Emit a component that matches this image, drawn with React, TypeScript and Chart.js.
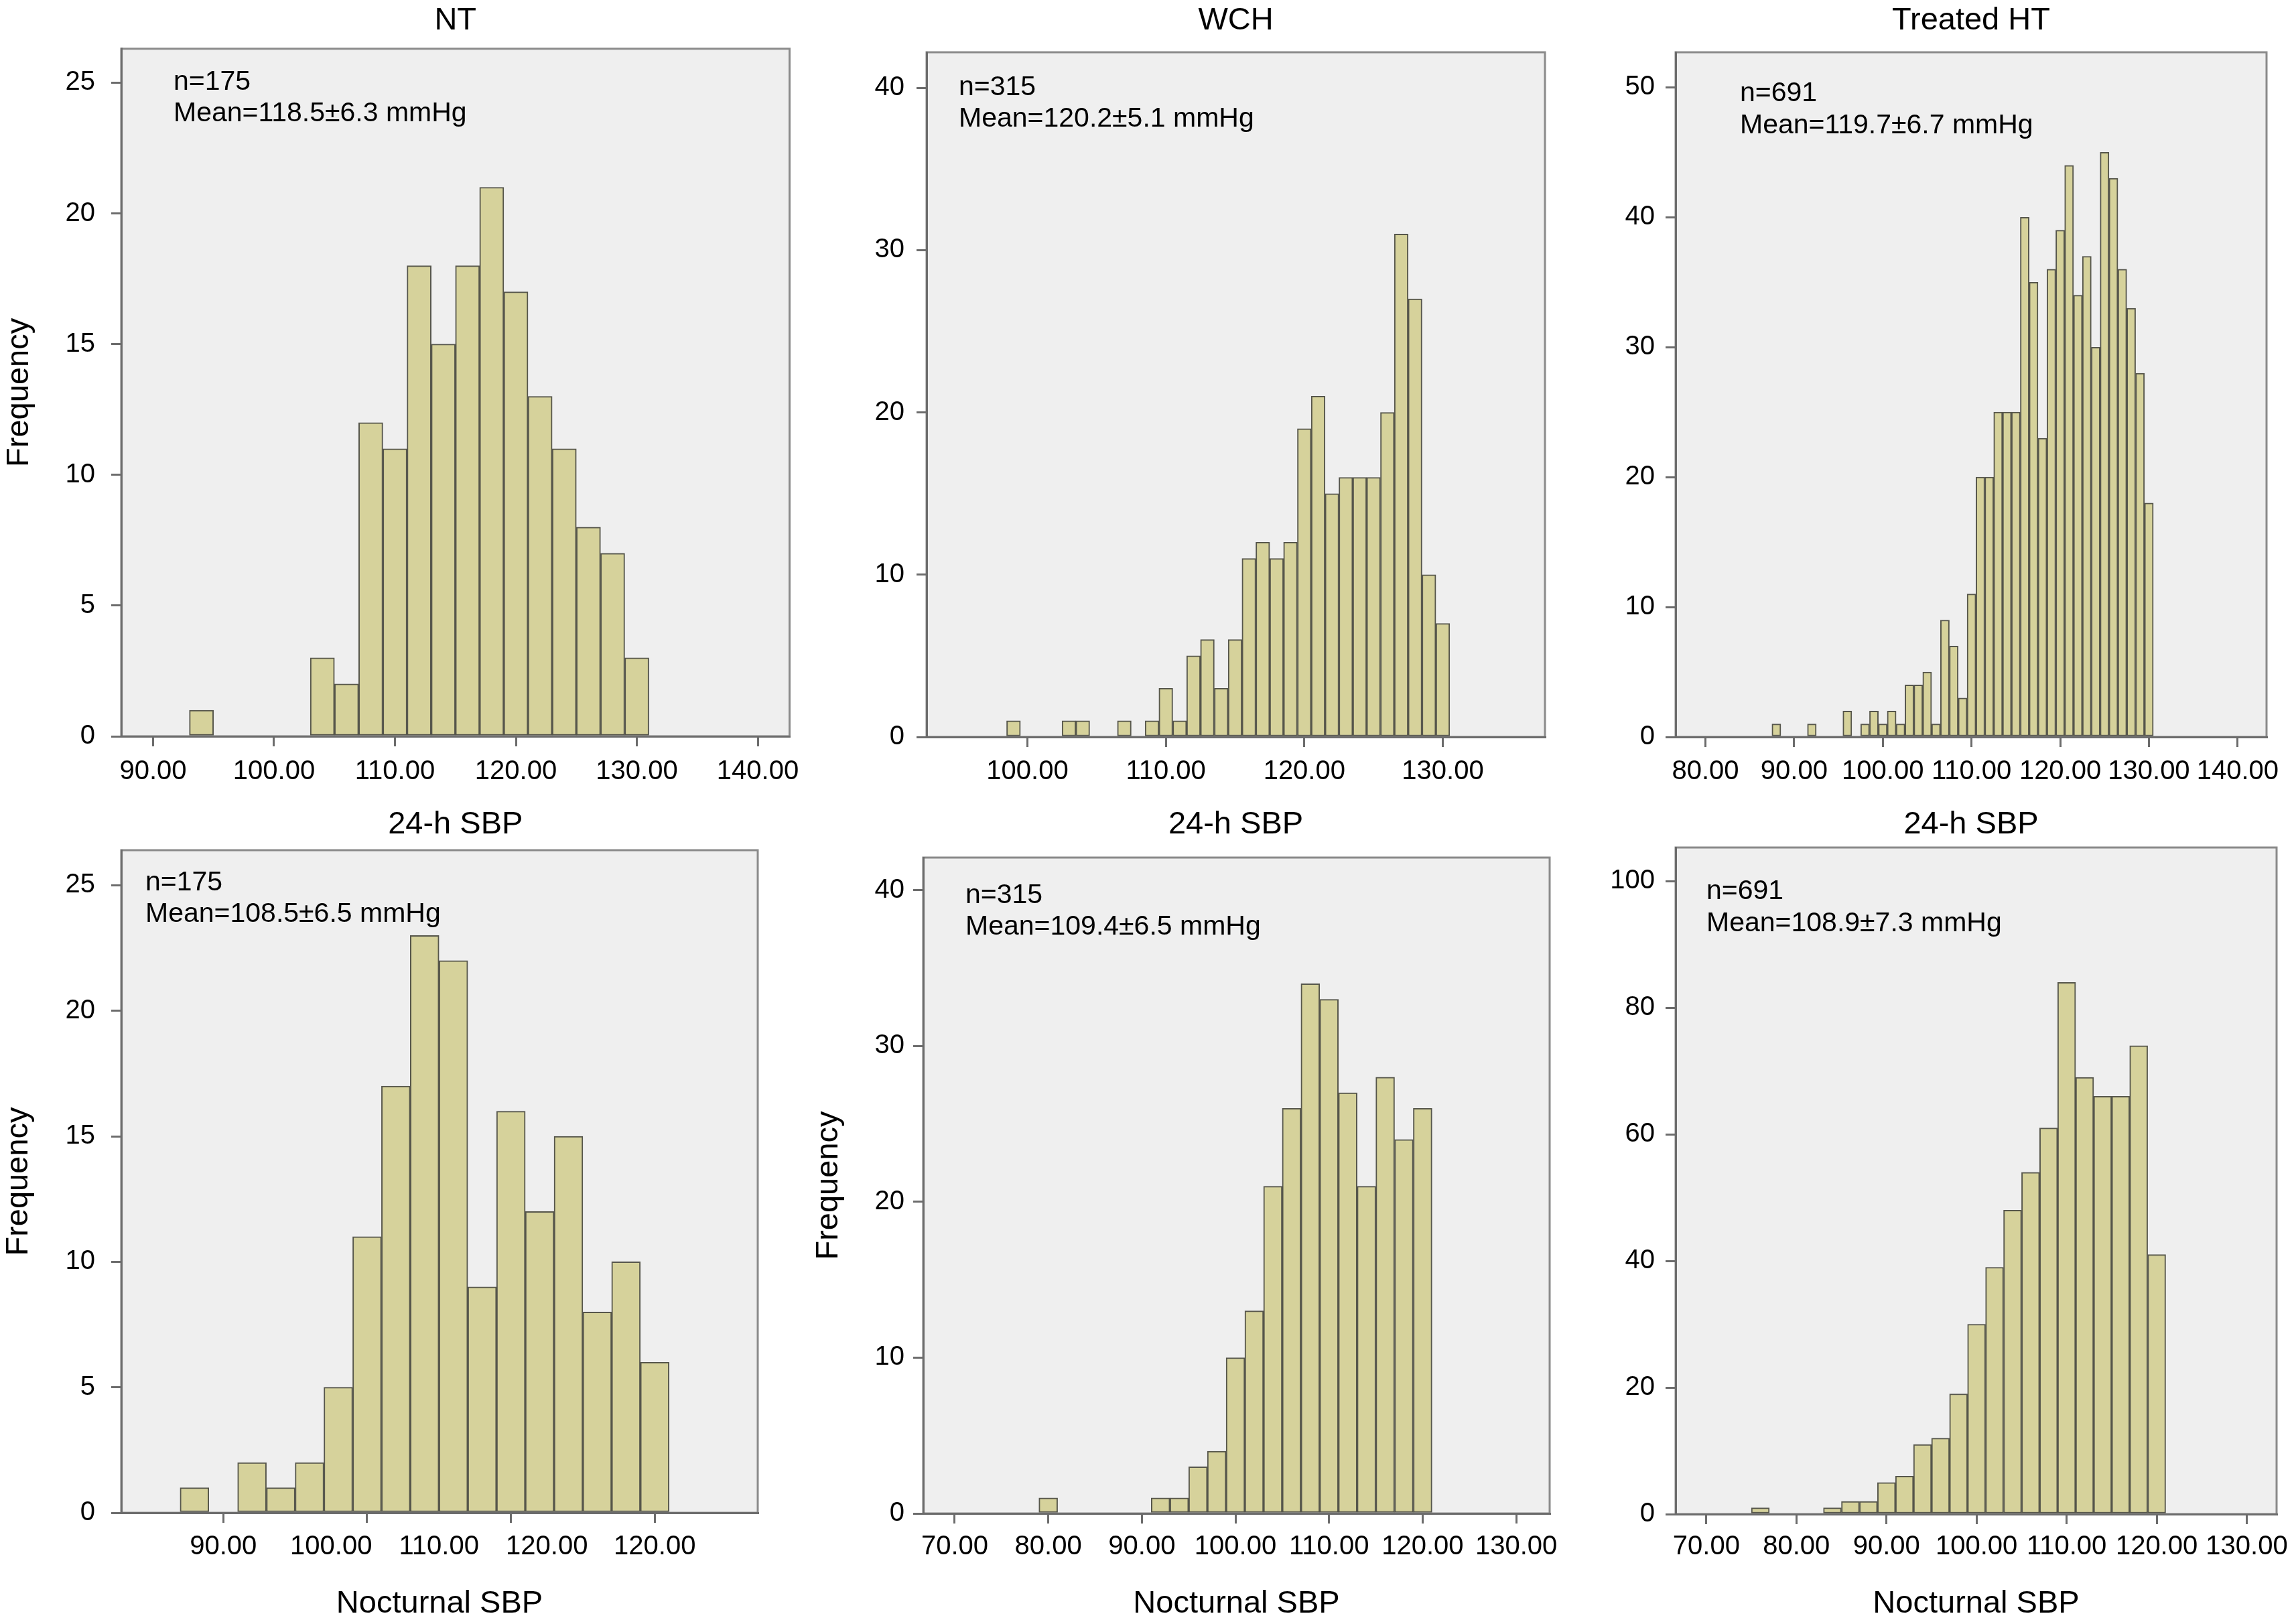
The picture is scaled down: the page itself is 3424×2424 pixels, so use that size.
import React, { useEffect, useRef } from "react";
import { Chart, registerables } from "chart.js";

Chart.register(...registerables);

const FONT = "'Liberation Sans', Arial, Helvetica, sans-serif";

// ---------------- data ----------------
// 24-h SBP, NT (bin width 2, bin centres)
const ntDayCenters = [94, 104, 106, 108, 110, 112, 114, 116, 118, 120, 122, 124, 126, 128, 130];
const ntDayCounts = [1, 3, 2, 12, 11, 18, 15, 18, 21, 17, 13, 11, 8, 7, 3];

// 24-h SBP, WCH (bin width 1)
const wchDayCenters = [99, 103, 104, 107, 109, 110, 111, 112, 113, 114, 115, 116, 117, 118, 119, 120, 121, 122, 123, 124, 125, 126, 127, 128, 129, 130];
const wchDayCounts = [1, 1, 1, 1, 1, 3, 1, 5, 6, 3, 6, 11, 12, 11, 12, 19, 21, 15, 16, 16, 16, 20, 31, 27, 10, 7];

// 24-h SBP, Treated HT (bin width 1)
const htDayCenters = [88, 92, 96, 98, 99, 100, 101, 102, 103, 104, 105, 106, 107, 108, 109, 110, 111, 112, 113, 114, 115, 116, 117, 118, 119, 120, 121, 122, 123, 124, 125, 126, 127, 128, 129, 130];
const htDayCounts = [1, 1, 2, 1, 2, 1, 2, 1, 4, 4, 5, 1, 9, 7, 3, 11, 20, 20, 25, 25, 25, 40, 35, 23, 36, 39, 44, 34, 37, 30, 45, 43, 36, 33, 28, 18];

// Nocturnal SBP, NT (bin width 2)
const ntNightCenters = [88, 92, 94, 96, 98, 100, 102, 104, 106, 108, 110, 112, 114, 116, 118, 120];
const ntNightCounts = [1, 2, 1, 2, 5, 11, 17, 23, 22, 9, 16, 12, 15, 8, 10, 6];

// Nocturnal SBP, WCH (bin width 2)
const wchNightCenters = [80, 92, 94, 96, 98, 100, 102, 104, 106, 108, 110, 112, 114, 116, 118, 120];
const wchNightCounts = [1, 1, 1, 3, 4, 10, 13, 21, 26, 34, 33, 27, 21, 28, 24, 26];

// Nocturnal SBP, Treated HT (bin width 2)
const htNightCenters = [76, 84, 86, 88, 90, 92, 94, 96, 98, 100, 102, 104, 106, 108, 110, 112, 114, 116, 118, 120];
const htNightCounts = [1, 1, 2, 2, 5, 6, 11, 12, 19, 30, 39, 48, 54, 61, 84, 69, 66, 66, 74, 41];

// tick values / labels
const ntDayTicks = [90, 100, 110, 120, 130, 140];
const wchDayTicks = [100, 110, 120, 130];
const htDayTicks = [80, 90, 100, 110, 120, 130, 140];
const ntNightTickMarks = [90, 100, 110, 120];
const ntNightLabelPositions = [90, 97.5, 105, 112.5, 120];
const ntNightTickLabels = ["90.00", "100.00", "110.00", "120.00", "120.00"];
const wchNightTicks = [70, 80, 90, 100, 110, 120, 130];
const htNightTicks = [70, 80, 90, 100, 110, 120, 130];
const freq25Ticks = [0, 5, 10, 15, 20, 25];
const freq40Ticks = [0, 10, 20, 30, 40];
const freq50Ticks = [0, 10, 20, 30, 40, 50];
const freq100Ticks = [0, 20, 40, 60, 80, 100];

// text
const groupTitles = ["NT", "WCH", "Treated HT"];
const dayAxisTitle = "24-h SBP";
const nightAxisTitle = "Nocturnal SBP";
const yAxisTitle = "Frequency";
const ntDayNote = ["n=175", "Mean=118.5\u00b16.3 mmHg"];
const wchDayNote = ["n=315", "Mean=120.2\u00b15.1 mmHg"];
const htDayNote = ["n=691", "Mean=119.7\u00b16.7 mmHg"];
const ntNightNote = ["n=175", "Mean=108.5\u00b16.5 mmHg"];
const wchNightNote = ["n=315", "Mean=109.4\u00b16.5 mmHg"];
const htNightNote = ["n=691", "Mean=108.9\u00b17.3 mmHg"];

// ---------------- styles ----------------
const PLOT_BG = "#efefef";
const FRAME = "#8a8a8a";
const AXIS = "#6c6c6c";
const BAR_FILL = "#d6d29b";
const BAR_EDGE = "#56564b";
const TICK_SIZE = 40;
const TITLE_SIZE = 47;
const NOTE_SIZE = 41;

interface PanelSpec {
  cell: [number, number, number, number];
  centers: number[];
  counts: number[];
  xMin: number;
  xMax: number;
  xTicks: number[];
  xLabelTicks?: number[];
  xLabels?: string[];
  yMax: number;
  yTicks: number[];
  title?: string;
  titlePad?: [number, number];
  xTitle: string;
  xTitlePadB: number;
  xHeight: number;
  xPad: number;
  yTitle?: string;
  yTitlePadT?: number;
  yWidth: number;
  yPad: number;
  padTop: number;
  padRight: number;
  note: string[];
  noteDx: number;
  noteDy: number[];
}

const COL3 = 2390;

const panels: PanelSpec[] = [
  {
    cell: [0, 0, 1195, 1262], centers: ntDayCenters, counts: ntDayCounts,
    xMin: 87.37, xMax: 142.63, xTicks: ntDayTicks, yMax: 26.3, yTicks: freq25Ticks,
    title: groupTitles[0], titlePad: [2.8, 13.5], xTitle: dayAxisTitle, xTitlePadB: 2.8,
    xHeight: 163, xPad: 14, yTitle: yAxisTitle, yTitlePadT: 0.8, yWidth: 181, yPad: 24,
    padTop: 0, padRight: 16.5, note: ntDayNote, noteDx: 78, noteDy: [61, 108],
  },
  {
    cell: [1195, 0, COL3, 1262], centers: wchDayCenters, counts: wchDayCounts,
    xMin: 92.72, xMax: 137.38, xTicks: wchDayTicks, yMax: 42.2, yTicks: freq40Ticks,
    title: groupTitles[1], titlePad: [2.8, 18.8], xTitle: dayAxisTitle, xTitlePadB: 2.8,
    xHeight: 162, xPad: 13, yWidth: 188, yPad: 18,
    padTop: 0, padRight: COL3 - 2306, note: wchDayNote, noteDx: 48, noteDy: [64, 111],
  },
  {
    cell: [COL3, 0, 3424, 1262], centers: htDayCenters, counts: htDayCounts,
    xMin: 76.64, xMax: 143.26, xTicks: htDayTicks, yMax: 52.7, yTicks: freq50Ticks,
    title: groupTitles[2], titlePad: [2.8, 18.8], xTitle: dayAxisTitle, xTitlePadB: 2.8,
    xHeight: 162, xPad: 13, yWidth: 2501 - COL3, yPad: 16,
    padTop: 0, padRight: 3424 - 3383, note: htDayNote, noteDx: 96, noteDy: [73, 121],
  },
  {
    cell: [0, 1262, 1195, 2424], centers: ntNightCenters, counts: ntNightCounts,
    xMin: 82.91, xMax: 127.16, xTicks: ntNightTickMarks,
    xLabelTicks: ntNightLabelPositions, xLabels: ntNightTickLabels,
    yMax: 26.4, yTicks: freq25Ticks, xTitle: nightAxisTitle, xTitlePadB: 1.8,
    xHeight: 166, xPad: 11.5, yTitle: yAxisTitle, yTitlePadT: 0, yWidth: 181, yPad: 24,
    padTop: 7, padRight: 1195 - 1131, note: ntNightNote, noteDx: 36, noteDy: [60, 107],
  },
  {
    cell: [1195, 1262, COL3, 2424], centers: wchNightCenters, counts: wchNightCounts,
    xMin: 66.64, xMax: 133.57, xTicks: wchNightTicks, yMax: 42.1, yTicks: freq40Ticks,
    xTitle: nightAxisTitle, xTitlePadB: 1.8, xHeight: 165, xPad: 10.5,
    yTitle: yAxisTitle, yTitlePadT: 13.8, yWidth: 183, yPad: 13,
    padTop: 18, padRight: COL3 - 2313, note: wchNightNote, noteDx: 63, noteDy: [68, 115],
  },
  {
    cell: [COL3, 1262, 3424, 2424], centers: htNightCenters, counts: htNightCounts,
    xMin: 66.59, xMax: 133.31, xTicks: htNightTicks, yMax: 105.3, yTicks: freq100Ticks,
    xTitle: nightAxisTitle, xTitlePadB: 1.8, xHeight: 164, xPad: 9.5,
    yWidth: 2501 - COL3, yPad: 16,
    padTop: 3, padRight: 3424 - 3398, note: htNightNote, noteDx: 46, noteDy: [77, 125],
  },
];

const framePlugin = {
  id: "panelFrame",
  beforeDraw(chart: any) {
    const { ctx, chartArea: a } = chart;
    ctx.save();
    ctx.fillStyle = PLOT_BG;
    ctx.fillRect(a.left, a.top, a.right - a.left, a.bottom - a.top);
    ctx.restore();
  },
  beforeDatasetsDraw(chart: any) {
    const { ctx, chartArea: a } = chart;
    ctx.save();
    ctx.strokeStyle = FRAME;
    ctx.lineWidth = 3;
    ctx.strokeRect(a.left, a.top, a.right - a.left, a.bottom - a.top);
    ctx.restore();
  },
  afterDraw(chart: any, _args: any, opts: any) {
    if (!opts || !opts.lines) return;
    const { ctx, chartArea: a } = chart;
    ctx.save();
    ctx.fillStyle = "#000";
    ctx.font = `${NOTE_SIZE}px ${FONT}`;
    ctx.textAlign = "left";
    ctx.textBaseline = "alphabetic";
    opts.lines.forEach((t: string, i: number) => {
      ctx.fillText(t, a.left + opts.dx, a.top + opts.dy[i]);
    });
    ctx.restore();
  },
};

function fixRange(min: number, max: number) {
  return (s: any) => {
    s.min = min;
    s.max = max;
  };
}

function buildConfig(p: PanelSpec): any {
  const tickFont = { size: TICK_SIZE, family: FONT, weight: "normal" };
  const titleFont = { size: TITLE_SIZE, family: FONT, weight: "normal" };
  const twoAxes = !!p.xLabelTicks;

  const scales: any = {
    x: {
      type: "linear",
      position: "bottom",
      weight: 0,
      offset: false,
      min: p.xMin,
      max: p.xMax,
      bounds: "data",
      afterDataLimits: fixRange(p.xMin, p.xMax),
      afterBuildTicks: (s: any) => {
        s.ticks = p.xTicks.map((v) => ({ value: v }));
        s.min = p.xMin;
        s.max = p.xMax;
      },
      afterFit: (s: any) => {
        s.height = twoAxes ? 15 : p.xHeight;
        s.paddingLeft = 0;
        s.paddingRight = 0;
      },
      grid: { display: true, offset: false, drawOnChartArea: false, drawTicks: true, tickLength: 15, color: AXIS, lineWidth: 3, z: 1 },
      border: { display: true, color: AXIS, width: 3, z: 1 },
      ticks: {
        display: !twoAxes,
        autoSkip: false,
        maxRotation: 0,
        minRotation: 0,
        padding: p.xPad,
        color: "#000",
        font: tickFont,
        callback: (v: any) => Number(v).toFixed(2),
      },
      title: twoAxes
        ? { display: false }
        : { display: true, text: p.xTitle, color: "#000", font: titleFont, padding: { top: 0, bottom: p.xTitlePadB } },
    },
    y: {
      type: "linear",
      position: "left",
      offset: false,
      min: 0,
      max: p.yMax,
      bounds: "data",
      afterDataLimits: fixRange(0, p.yMax),
      afterBuildTicks: (s: any) => {
        s.ticks = p.yTicks.map((v) => ({ value: v }));
        s.min = 0;
        s.max = p.yMax;
      },
      afterFit: (s: any) => {
        s.width = p.yWidth;
        s.paddingTop = 0;
        s.paddingBottom = 0;
      },
      grid: { display: true, offset: false, drawOnChartArea: false, drawTicks: true, tickLength: 15, color: AXIS, lineWidth: 3, z: 1 },
      border: { display: true, color: AXIS, width: 3, z: 1 },
      ticks: {
        padding: p.yPad,
        color: "#000",
        font: tickFont,
        autoSkip: false,
        callback: (v: any) => String(v),
      },
      title: p.yTitle
        ? { display: true, text: p.yTitle, color: "#000", font: titleFont, padding: { top: p.yTitlePadT || 0, bottom: 0 } }
        : { display: false },
    },
  };

  if (twoAxes) {
    scales.xLab = {
      type: "linear",
      position: "bottom",
      axis: "x",
      weight: 1,
      offset: false,
      min: p.xMin,
      max: p.xMax,
      bounds: "data",
      afterDataLimits: fixRange(p.xMin, p.xMax),
      afterBuildTicks: (s: any) => {
        s.ticks = (p.xLabelTicks as number[]).map((v) => ({ value: v }));
        s.min = p.xMin;
        s.max = p.xMax;
      },
      afterFit: (s: any) => {
        s.height = p.xHeight - 15;
        s.paddingLeft = 0;
        s.paddingRight = 0;
      },
      grid: { display: false, offset: false, drawTicks: false, drawOnChartArea: false },
      border: { display: false },
      ticks: {
        autoSkip: false,
        maxRotation: 0,
        minRotation: 0,
        padding: p.xPad,
        color: "#000",
        font: tickFont,
        callback: (_v: any, i: number) => (p.xLabels as string[])[i],
      },
      title: { display: true, text: p.xTitle, color: "#000", font: titleFont, padding: { top: 0, bottom: p.xTitlePadB } },
    };
  }

  return {
    type: "bar",
    data: {
      datasets: [
        {
          data: p.centers.map((c, i) => ({ x: c, y: p.counts[i] })),
          backgroundColor: BAR_FILL,
          borderColor: BAR_EDGE,
          borderWidth: 2,
          borderSkipped: false,
          barPercentage: 1,
          categoryPercentage: 1,
          xAxisID: "x",
          yAxisID: "y",
        },
      ],
    },
    options: {
      animation: false,
      responsive: true,
      maintainAspectRatio: false,
      events: [],
      layout: { padding: { left: 0, top: p.padTop, right: p.padRight, bottom: 0 } },
      scales,
      plugins: {
        legend: { display: false },
        tooltip: { enabled: false },
        title: p.title
          ? {
              display: true,
              text: p.title,
              color: "#000",
              font: titleFont,
              fullSize: false,
              padding: { top: p.titlePad![0], bottom: p.titlePad![1] },
            }
          : { display: false },
        panelFrame: { lines: p.note, dx: p.noteDx, dy: p.noteDy },
      },
    },
    plugins: [framePlugin],
  };
}

function Panel({ spec }: { spec: PanelSpec }) {
  const ref = useRef<HTMLCanvasElement>(null);
  useEffect(() => {
    const chart = new Chart(ref.current as HTMLCanvasElement, buildConfig(spec));
    return () => chart.destroy();
  }, [spec]);
  const [l, t, r, b] = spec.cell;
  return (
    <div style={{ position: "absolute", left: l, top: t, width: r - l, height: b - t }}>
      <canvas ref={ref} />
    </div>
  );
}

export default function App() {
  return (
    <div
      style={{
        position: "absolute",
        left: 0,
        top: 0,
        width: 3424,
        height: 2424,
        background: "#ffffff",
        overflow: "hidden",
        fontFamily: FONT,
      }}
    >
      {panels.map((p, i) => (
        <Panel key={i} spec={p} />
      ))}
    </div>
  );
}
